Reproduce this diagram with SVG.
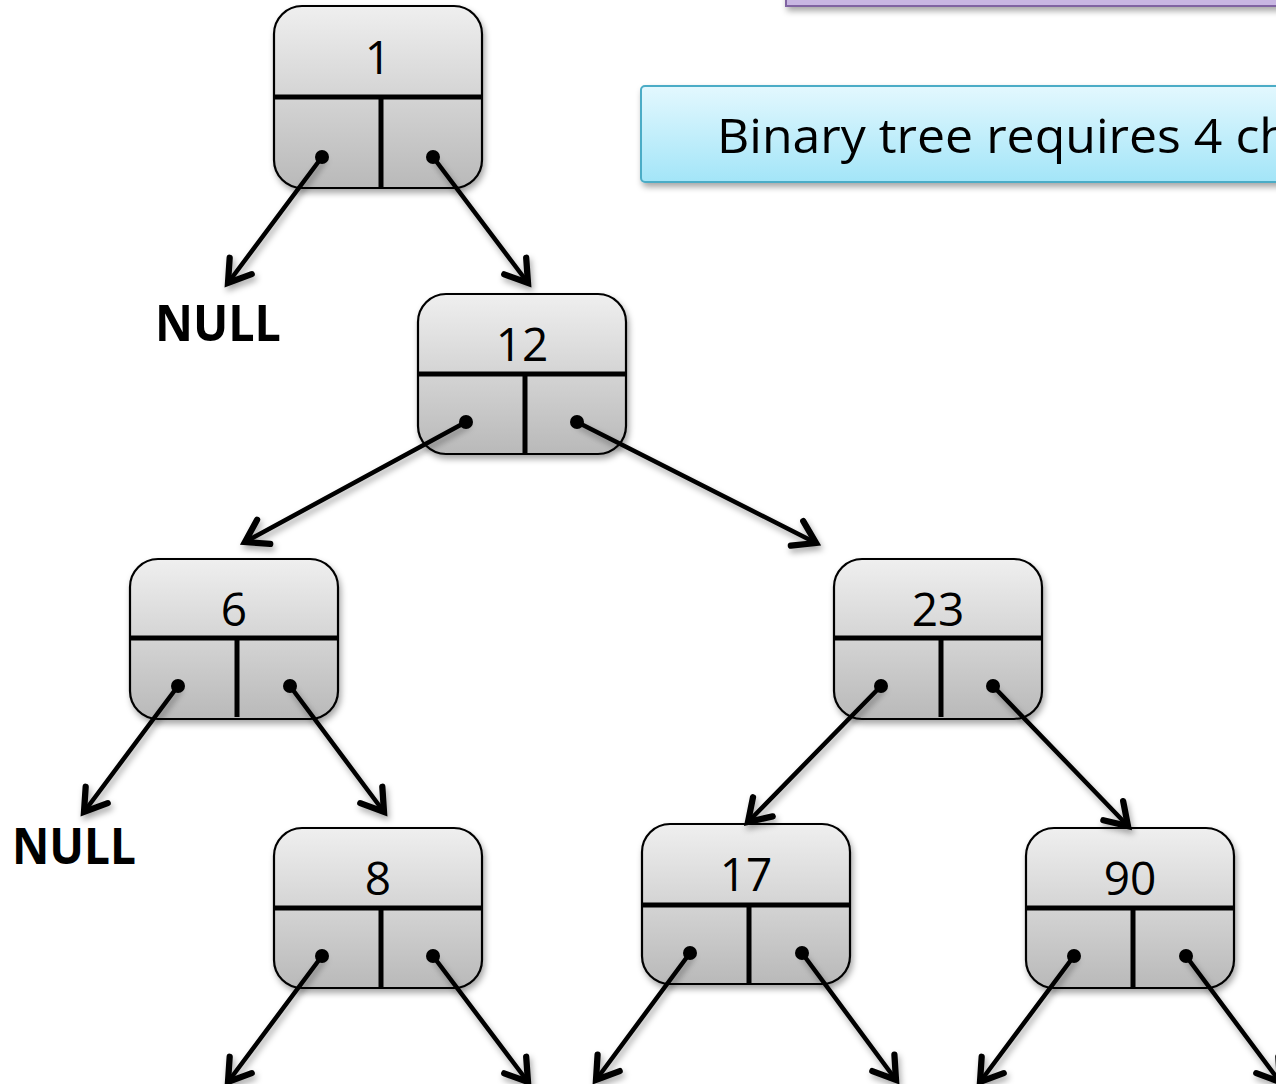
<svg xmlns="http://www.w3.org/2000/svg" width="1276" height="1084" viewBox="0 0 1276 1084">
<defs>
<linearGradient id="nodeGrad" x1="0" y1="0" x2="0" y2="1">
<stop offset="0" stop-color="#efefef"/>
<stop offset="1" stop-color="#b9b9b9"/>
</linearGradient>
<linearGradient id="cyanGrad" x1="0" y1="0" x2="0" y2="1">
<stop offset="0" stop-color="#e3f8fe"/>
<stop offset="1" stop-color="#a3e5f8"/>
</linearGradient>
<filter id="shadow" x="-20%" y="-20%" width="140%" height="150%">
<feDropShadow dx="2" dy="4" stdDeviation="3" flood-color="#000" flood-opacity="0.35"/>
</filter>
<marker id="arrow" markerUnits="userSpaceOnUse" markerWidth="40" markerHeight="40" viewBox="-24 -16 30 32" refX="0" refY="0" orient="auto">
<path d="M-17,-11 L0,0 L-17,11" fill="none" stroke="#000" stroke-width="5" stroke-linecap="round" stroke-linejoin="miter"/>
</marker>
</defs>
<style>
.box{fill:url(#nodeGrad);stroke:#000;stroke-width:2.2;filter:url(#shadow)}
.div{stroke:#000;stroke-width:5}
.dot{fill:#000}
.val{font-family:"Open Sans","Liberation Sans",sans-serif;font-size:46px;fill:#000;text-anchor:middle}
.null{font-family:"Open Sans","Liberation Sans",sans-serif;font-weight:bold;font-size:50px;fill:#000}
.conn line{stroke:#000;stroke-width:4.5;stroke-linecap:round;marker-end:url(#arrow)}
</style>
<rect width="1276" height="1084" fill="#fff"/>

<g id="note-top">
<rect x="786" y="-40" width="560" height="46" fill="#c8b6e2" stroke="#8064a2" stroke-width="2" filter="url(#shadow)"/>
</g>
<g id="note-binary">
<rect x="641" y="86" width="700" height="96" rx="4" fill="url(#cyanGrad)" stroke="#4bacc6" stroke-width="2" filter="url(#shadow)"/>
<text x="717" y="153" font-family="'Open Sans','Liberation Sans',sans-serif" font-size="47" fill="#000" textLength="573" lengthAdjust="spacingAndGlyphs">Binary tree requires 4 ch</text>
</g>

<g id="node-1">
<rect class="box" x="274" y="6" width="208" height="182" rx="28"/>
<line class="div" x1="274" y1="97" x2="482" y2="97"/>
<line class="div" x1="381" y1="97" x2="381" y2="187"/>
<text class="val" x="378" y="74">1</text>
<circle class="dot" cx="322" cy="157" r="7"/>
<circle class="dot" cx="433" cy="157" r="7"/>
</g>
<g id="node-12">
<rect class="box" x="418" y="294" width="208" height="160" rx="28"/>
<line class="div" x1="418" y1="374" x2="626" y2="374"/>
<line class="div" x1="525" y1="374" x2="525" y2="453"/>
<text class="val" x="522" y="361">12</text>
<circle class="dot" cx="466" cy="422" r="7"/>
<circle class="dot" cx="577" cy="422" r="7"/>
</g>
<g id="node-6">
<rect class="box" x="130" y="559" width="208" height="160" rx="28"/>
<line class="div" x1="130" y1="638" x2="338" y2="638"/>
<line class="div" x1="237" y1="638" x2="237" y2="717"/>
<text class="val" x="234" y="626">6</text>
<circle class="dot" cx="178" cy="686" r="7"/>
<circle class="dot" cx="290" cy="686" r="7"/>
</g>
<g id="node-23">
<rect class="box" x="834" y="559" width="208" height="160" rx="28"/>
<line class="div" x1="834" y1="638" x2="1042" y2="638"/>
<line class="div" x1="941" y1="638" x2="941" y2="717"/>
<text class="val" x="938" y="626">23</text>
<circle class="dot" cx="881" cy="686" r="7"/>
<circle class="dot" cx="993" cy="686" r="7"/>
</g>
<g id="node-8">
<rect class="box" x="274" y="828" width="208" height="160" rx="28"/>
<line class="div" x1="274" y1="908" x2="482" y2="908"/>
<line class="div" x1="381" y1="908" x2="381" y2="987"/>
<text class="val" x="378" y="895">8</text>
<circle class="dot" cx="322" cy="956" r="7"/>
<circle class="dot" cx="433" cy="956" r="7"/>
</g>
<g id="node-17">
<rect class="box" x="642" y="824" width="208" height="160" rx="28"/>
<line class="div" x1="642" y1="905" x2="850" y2="905"/>
<line class="div" x1="749" y1="905" x2="749" y2="983"/>
<text class="val" x="746" y="891">17</text>
<circle class="dot" cx="690" cy="953" r="7"/>
<circle class="dot" cx="802" cy="953" r="7"/>
</g>
<g id="node-90">
<rect class="box" x="1026" y="828" width="208" height="160" rx="28"/>
<line class="div" x1="1026" y1="908" x2="1234" y2="908"/>
<line class="div" x1="1133" y1="908" x2="1133" y2="987"/>
<text class="val" x="1130" y="895">90</text>
<circle class="dot" cx="1074" cy="956" r="7"/>
<circle class="dot" cx="1186" cy="956" r="7"/>
</g>

<g id="null-1"><text class="null" x="155" y="341" textLength="126" lengthAdjust="spacingAndGlyphs">NULL</text></g>
<g id="null-2"><text class="null" x="12" y="864" textLength="124" lengthAdjust="spacingAndGlyphs">NULL</text></g>

<g id="connectors" class="conn" filter="url(#shadow)">
<line x1="322" y1="157" x2="228" y2="283"/>
<line x1="433" y1="157" x2="528" y2="283"/>
<line x1="466" y1="422" x2="245" y2="542"/>
<line x1="577" y1="422" x2="816" y2="543"/>
<line x1="178" y1="686" x2="84" y2="812"/>
<line x1="290" y1="686" x2="384" y2="812"/>
<line x1="881" y1="686" x2="748" y2="822"/>
<line x1="993" y1="686" x2="1128" y2="826"/>
<line x1="322" y1="956" x2="228" y2="1082"/>
<line x1="433" y1="956" x2="528" y2="1082"/>
<line x1="690" y1="953" x2="596" y2="1080"/>
<line x1="802" y1="953" x2="896" y2="1080"/>
<line x1="1074" y1="956" x2="980" y2="1082"/>
<line x1="1186" y1="956" x2="1280" y2="1082"/>
</g>
</svg>
